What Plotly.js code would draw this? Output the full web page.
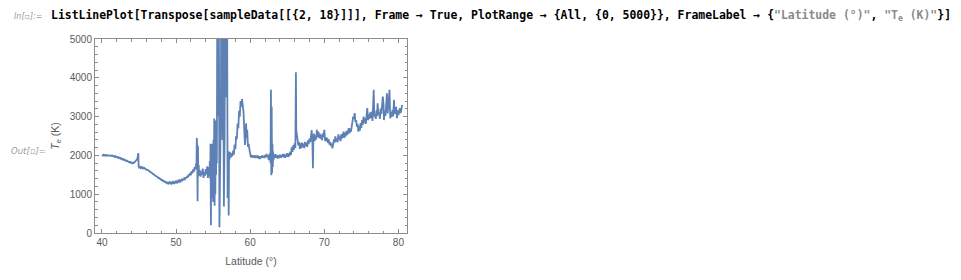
<!DOCTYPE html>
<html>
<head>
<meta charset="utf-8">
<script src="https://cdn.plot.ly/plotly-3.0.1.min.js"></script>
<style>
html,body{margin:0;padding:0;background:#fff;}
#chart{width:961px;height:280px;}
</style>
</head>
<body>
<div id="chart"></div>
<script>
// Latitude (deg) and electron temperature Te (K)
const latitude = [
40.0,40.1,40.2,40.3,40.4,40.5,40.6,40.7,40.8,40.9,
41.0,41.1,41.2,41.3,41.4,41.5,41.6,41.7,41.8,41.9,
42.0,42.1,42.2,42.3,42.4,42.5,42.6,42.7,42.8,42.9,
43.0,43.1,43.2,43.3,43.4,43.5,43.6,43.7,43.8,43.9,
44.0,44.1,44.2,44.3,44.4,44.5,44.6,44.7,44.8,44.85,44.9,44.95,
45.0,45.1,45.2,45.3,45.4,45.5,45.6,45.7,45.8,45.9,
46.0,46.1,46.2,46.3,46.4,46.5,46.6,46.7,46.8,46.9,
47.0,47.1,47.2,47.3,47.4,47.5,47.6,47.7,47.8,47.9,
48.0,48.1,48.2,48.3,48.4,48.5,48.6,48.7,48.8,48.9,
49.0,49.1,49.2,49.3,49.4,49.5,49.6,49.7,49.8,49.9,
50.0,50.1,50.2,50.3,50.4,50.5,50.6,50.7,50.8,50.9,
51.0,51.1,51.2,51.3,51.4,51.5,51.6,51.7,51.8,51.9,
52.0,52.1,52.2,52.3,52.4,52.5,52.6,52.7,52.75,52.8,52.85,52.9,52.95,
53.0,53.05,53.1,53.2,53.3,53.4,53.5,53.6,53.7,53.8,53.9,
54.0,54.1,54.2,54.3,54.4,54.5,54.55,54.6,54.65,54.7,54.75,54.8,54.85,54.9,54.95,
55.0,55.05,55.1,55.15,55.2,55.25,55.3,55.35,55.4,55.45,55.5,55.6,55.7,55.75,55.85,55.95,
56.05,56.15,56.25,56.3,56.4,56.45,56.55,56.65,56.75,56.85,56.95,
57.05,57.1,57.15,57.2,57.3,57.4,57.5,57.6,57.7,57.8,57.9,
58.0,58.1,58.2,58.3,58.4,58.5,58.6,58.7,58.8,58.9,
59.0,59.1,59.2,59.3,59.4,59.45,59.5,59.6,59.7,59.8,59.9,
60.0,60.1,60.2,60.3,60.4,60.5,60.6,60.7,60.8,60.9,
61.0,61.1,61.2,61.3,61.4,61.5,61.6,61.7,61.8,61.9,
62.0,62.1,62.2,62.3,62.4,62.5,62.6,62.7,62.75,62.8,62.85,62.9,62.95,
63.0,63.05,63.1,63.15,63.2,63.3,63.4,63.5,63.6,63.7,63.8,63.9,
64.0,64.1,64.2,64.3,64.4,64.5,64.6,64.7,64.8,64.9,
65.0,65.1,65.2,65.3,65.4,65.5,65.6,65.7,65.8,65.9,
66.0,66.1,66.17,66.22,66.3,66.4,66.5,66.6,66.7,66.8,66.9,
67.0,67.1,67.2,67.3,67.4,67.5,67.6,67.7,67.8,67.9,
68.0,68.1,68.2,68.3,68.4,68.47,68.52,68.6,68.7,68.8,68.9,
69.0,69.1,69.2,69.3,69.4,69.5,69.6,69.7,69.8,69.9,
70.0,70.1,70.2,70.3,70.4,70.5,70.6,70.7,70.8,70.9,
71.0,71.1,71.2,71.3,71.4,71.5,71.6,71.7,71.8,71.9,
72.0,72.1,72.2,72.3,72.4,72.5,72.6,72.7,72.8,72.9,
73.0,73.1,73.2,73.3,73.4,73.5,73.6,73.7,73.8,73.9,
74.0,74.1,74.2,74.3,74.4,74.5,74.6,74.7,74.8,74.9,
75.0,75.1,75.2,75.3,75.4,75.5,75.6,75.7,75.8,75.9,
76.0,76.1,76.2,76.3,76.4,76.5,76.6,76.67,76.75,76.85,76.95,
77.05,77.1,77.2,77.3,77.4,77.5,77.6,77.7,77.8,77.9,
78.0,78.05,78.15,78.25,78.35,78.45,78.55,78.65,78.8,78.9,
79.0,79.1,79.2,79.3,79.4,79.5,79.6,79.7,79.8,79.9,
80.0,80.1,80.2,80.3,80.4,80.5
];
const electronTemp = [
2010,1995,2015,1998,2012,1994,2008,1990,2006,1994,
2004,1988,2002,1986,1996,1978,1988,1966,1978,1956,
1964,1944,1954,1930,1940,1916,1924,1900,1910,1884,
1896,1870,1880,1854,1862,1840,1844,1822,1834,1808,
1818,1796,1808,1806,1834,1840,1874,1886,1936,1990,2060,1720,
1690,1706,1676,1700,1672,1692,1664,1676,1650,1656,
1630,1634,1606,1610,1584,1584,1560,1556,1532,1526,
1504,1498,1476,1470,1448,1444,1418,1418,1394,1396,
1366,1370,1342,1348,1320,1326,1300,1306,1280,1300,
1276,1306,1280,1302,1276,1310,1284,1314,1290,1322,
1296,1330,1306,1346,1320,1356,1332,1372,1350,1392,
1364,1408,1390,1438,1410,1468,1436,1508,1466,1548,
1496,1596,1540,1636,1576,1696,1636,1786,1700,2450,2200,820,2250,
1560,1750,1480,1620,1450,1580,1500,1660,1420,1560,1480,
1650,1520,1720,1420,1700,1480,1850,1400,2300,200,2250,900,2300,1300,2200,
800,2400,1100,2950,700,2700,1000,2900,1500,2600,1800,9000,3000,8000,150,2600,
3500,9000,2400,8000,2000,680,2500,9000,3500,9000,900,
1800,450,2100,1900,2080,1950,2050,1980,2120,2020,2280,
2160,2500,2420,2820,2700,3150,3000,3400,3260,3450,
3220,3120,2650,2270,2600,2830,2450,2660,2220,2300,2150,
2010,1950,2010,1940,1995,1950,2005,1935,1990,1940,
2000,1920,1975,1910,1980,1930,1995,1940,1990,1935,
2005,1950,2035,1950,2015,1880,2005,2050,1800,3690,1490,3260,1540,
2300,1700,2100,1880,2010,1930,2030,1940,2010,1920,1995,1930,
2020,1940,2010,1950,2030,1950,2040,1940,2020,1970,
2060,1960,2050,1980,2090,2010,2210,2090,2260,2140,
2310,2190,4140,2650,2550,2380,2260,2340,2170,2310,2190,
2330,2210,2300,2190,2350,2240,2330,2220,2390,2290,
2430,2340,2490,2650,2300,1670,2400,2560,2370,2510,2410,
2660,2470,2610,2450,2560,2430,2530,2390,2570,2470,
2660,2370,2470,2360,2450,2320,2410,2280,2340,2240,
2310,2180,2330,2410,2330,2490,2360,2430,2340,2540,
2410,2490,2370,2550,2440,2530,2610,2450,2590,2490,
2630,2530,2660,2700,2570,2690,2610,2790,2850,3000,
2940,3090,2860,2910,2740,2810,2610,2760,2640,2830,
2710,2910,2790,3000,2840,2960,2810,3060,3220,2910,
3060,2940,3110,2970,3130,2890,3250,3690,3000,3060,2940,
3160,3010,3345,3040,3110,2940,3210,3070,3400,3516,
3300,2910,3150,3020,3300,3603,3080,3300,3690,2957,
3110,2990,3172,3010,3430,3070,3210,3250,2960,3160,
3040,3190,3216,3090,3260,3300
];
const xTickValues = [40, 50, 60, 70, 80];
const yTickValues = [0, 1000, 2000, 3000, 4000, 5000];
const xLabel = "Latitude (°)";
const yLabel = "<i>T</i><sub><i>e</i></sub> (K)";
const inLabel = "In[▫]:=";
const outLabel = "Out[▫]=";
const codeText = 'ListLinePlot[Transpose[sampleData[[{2, 18}]]], Frame → True, PlotRange → {All, {0, 5000}}, FrameLabel → {<span style="color:#8a8a8a">"Latitude (°)"</span>, <span style="color:#8a8a8a">"T<sub>e</sub> (K)"</span>}]';

const W = 961, H = 280;
const M = {l: 95, r: 554, t: 39, b: 47};
const PW = W - M.l - M.r, PH = H - M.t - M.b;
function px(x){ return (x - M.l) / PW; }
function py(y){ return (H - M.b - y) / PH; }

const frameColor = "#8c8c8c";
const labelColor = "#5a5a5a";

const trace = {
  x: latitude, y: electronTemp, type: "scatter", mode: "lines",
  line: {color: "rgb(94,129,181)", width: 1.8},
  hoverinfo: "skip"
};

const axisCommon = {
  showline: true, linecolor: frameColor, linewidth: 1, mirror: "ticks",
  ticks: "inside", ticklen: 4, tickwidth: 1, tickcolor: frameColor,
  showgrid: false, zeroline: false,
  tickfont: {family: "Liberation Sans, Arial, sans-serif", size: 10, color: labelColor},
  title: {font: {family: "Liberation Sans, Arial, sans-serif", size: 10.5, color: labelColor}}
};

const layout = {
  width: W, height: H, margin: M,
  paper_bgcolor: "#fff", plot_bgcolor: "#fff",
  showlegend: false,
  xaxis: Object.assign({}, axisCommon, {
    range: [39.06, 81.16], tickvals: xTickValues, ticktext: xTickValues.map(String),
    minor: {dtick: 2, tick0: 0, ticklen: 2.5, tickcolor: frameColor, ticks: "inside"},
    title: {text: xLabel, standoff: 10, font: axisCommon.title.font}
  }),
  yaxis: Object.assign({}, axisCommon, {
    range: [0, 5000], tickvals: yTickValues, ticktext: yTickValues.map(String),
    minor: {dtick: 200, tick0: 0, ticklen: 2.5, tickcolor: frameColor, ticks: "inside"},
    title: {text: yLabel, standoff: 8, font: axisCommon.title.font}
  }),
  annotations: [
    {xref: "paper", yref: "paper", x: px(12), y: py(17), xanchor: "left", yanchor: "middle",
     text: inLabel, showarrow: false,
     font: {family: "DejaVu Sans, sans-serif", size: 8, color: "#9a9a9a", style: "italic"}},
    {xref: "paper", yref: "paper", x: px(49), y: py(16), xanchor: "left", yanchor: "middle",
     text: "<b>" + codeText + "</b>", showarrow: false,
     font: {family: "DejaVu Sans Mono, monospace", size: 11.45, color: "#000"}},
    {xref: "paper", yref: "paper", x: px(9), y: py(151), xanchor: "left", yanchor: "middle",
     text: outLabel, showarrow: false,
     font: {family: "DejaVu Sans, sans-serif", size: 8.5, color: "#9a9a9a", style: "italic"}}
  ]
};

Plotly.newPlot("chart", [trace], layout, {staticPlot: true, displayModeBar: false});
</script>
</body>
</html>
